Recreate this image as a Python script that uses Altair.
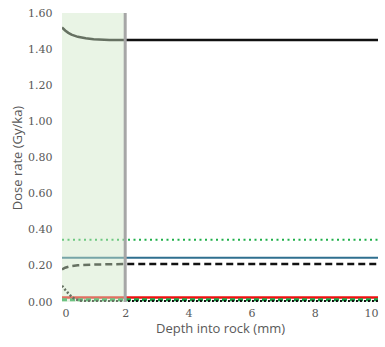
import altair as alt
import pandas as pd

# Depth profiles of dose rate components (depth in mm, dose rate in Gy/ka)
total_depth = [0, 0.1, 0.2, 0.3, 0.5, 0.75, 1.0, 1.5, 2.0, 10.0]
total_rate = [1.52, 1.503, 1.49, 1.48, 1.468, 1.46, 1.455, 1.451, 1.45, 1.45]

beta_depth = [0, 0.1, 0.25, 0.5, 1.0, 1.5, 2.0, 10.0]
beta_rate = [0.18, 0.19, 0.197, 0.203, 0.207, 0.209, 0.21, 0.21]

alpha_depth = [0, 0.1, 0.2, 0.3, 0.4, 0.6, 1.0, 2.0, 10.0]
alpha_rate = [0.09, 0.068, 0.048, 0.03, 0.016, 0.007, 0.004, 0.004, 0.004]

flat_depth = [0, 10]
gamma_rate = [0.345, 0.345]
cosmic_rate = [0.245, 0.245]
internal_rate = [0.025, 0.025]
minor_rate = [0.012, 0.012]

x_ticks = [0, 2, 4, 6, 8, 10]
y_ticks = [0, 0.2, 0.4, 0.6, 0.8, 1.0, 1.2, 1.4, 1.6]

# shaded near-surface zone
zone = pd.DataFrame({"x0": [0], "x1": [2], "y0": [0.0], "y1": [1.6]})
boundary = pd.DataFrame({"x": [2]})

x_scale = alt.Scale(domain=[0, 10], nice=False, zero=False)
y_scale = alt.Scale(domain=[0, 1.6], nice=False)

x_axis = alt.Axis(title="Depth into rock (mm)", values=x_ticks, format="d",
                  labelPadding=5, titlePadding=4)
y_axis = alt.Axis(title="Dose rate (Gy/ka)", values=y_ticks, format=".2f",
                  labelPadding=10, titlePadding=3)


def series(depth, rate, color, width, dash=None):
    df = pd.DataFrame({"depth": depth, "rate": rate})
    kw = dict(color=color, strokeWidth=width, clip=True)
    if dash:
        kw["strokeDash"] = dash
    return alt.Chart(df).mark_line(**kw).encode(
        x=alt.X("depth:Q", scale=x_scale, axis=x_axis),
        y=alt.Y("rate:Q", scale=y_scale, axis=y_axis),
    )


lines = [
    series(total_depth, total_rate, "#111111", 2.5),
    series(flat_depth, gamma_rate, "#1fb04a", 2, [2, 3.5]),
    series(flat_depth, cosmic_rate, "#2f6f8f", 2),
    series(beta_depth, beta_rate, "#111111", 2.5, [7, 4]),
    series(flat_depth, internal_rate, "#ee1111", 2.5),
    series(flat_depth, minor_rate, "#1aa34a", 3, [5, 3]),
    series(alpha_depth, alpha_rate, "#111111", 2.5, [2, 2]),
]

shade = alt.Chart(zone).mark_rect(color="#cfe6c6", opacity=0.45).encode(
    x=alt.X("x0:Q", scale=x_scale, axis=x_axis), x2="x1:Q",
    y=alt.Y("y0:Q", scale=y_scale, axis=y_axis), y2="y1:Q",
)

rule = alt.Chart(boundary).mark_rule(color="#a6a6a6", strokeWidth=3).encode(
    x=alt.X("x:Q", scale=x_scale, axis=x_axis)
)

chart = alt.layer(*lines, shade, rule).properties(
    width=316, height=289,
    autosize=alt.AutoSizeParams(type="none"),
    padding={"left": 62, "top": 13, "right": 7, "bottom": 45},
).configure_view(stroke=None).configure_axis(
    grid=False, domain=False, ticks=False,
    labelFont="DejaVu Serif", labelFontSize=11, labelColor="#595959",
    titleFont="Open Sans", titleFontSize=13, titleFontWeight="normal", titleColor="#595959",
)

chart.save("out.html", embed_options={"renderer": "svg", "actions": False})
